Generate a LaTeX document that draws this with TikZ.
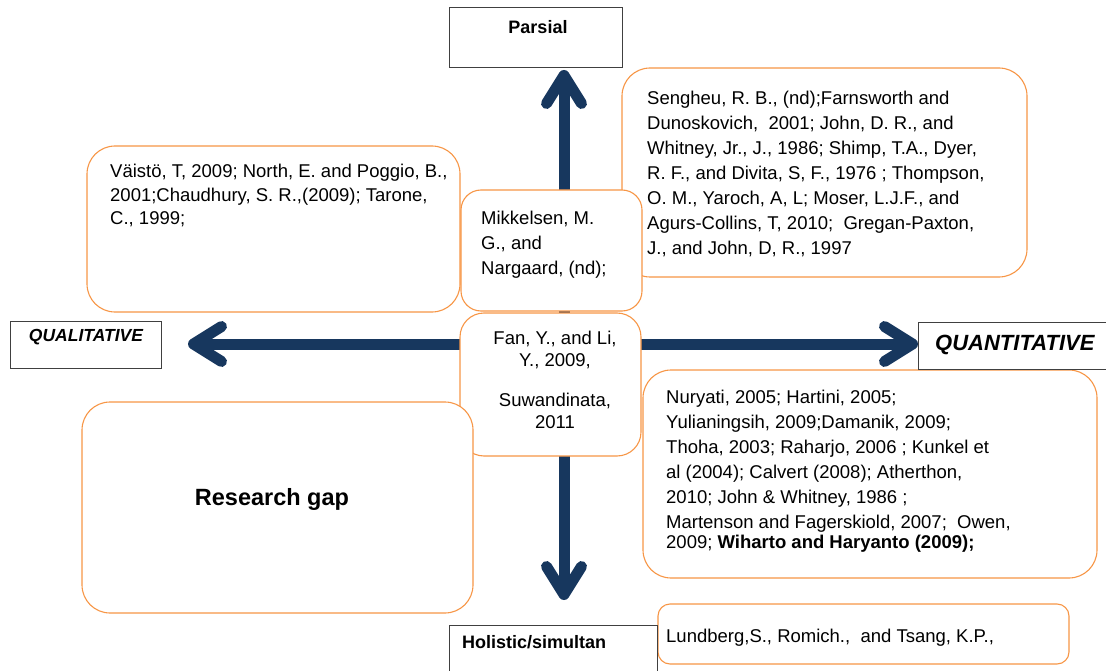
\documentclass[tikz,border=0pt]{standalone}
\usepackage{fontspec}
\setmainfont{Liberation Sans}
\usetikzlibrary{arrows.meta}
\definecolor{bleunuit}{RGB}{23,55,94}
\definecolor{orangeclair}{RGB}{247,150,70}

\begin{document}
\begin{tikzpicture}[x=1pt,y=-1pt,
    boite/.style={draw=orangeclair, line width=1.1pt, fill=white, rounded corners=28pt, inner sep=0pt},
    cadre/.style={draw=black!75, line width=1pt, fill=white, inner sep=0pt},
    texte/.style={anchor=north west, inner sep=0pt, align=left, font=\fontsize{18.5}{25}\selectfont},
    titre/.style={inner sep=0pt, font=\fontsize{18}{22}\selectfont\bfseries},
    axe/.style={draw=bleunuit, line width=11pt,
        {Straight Barb[length=28pt,width=35pt,round]}-{Straight Barb[length=28pt,width=35pt,round]}}]
    % Cadre de la figure
    \useasboundingbox (0,0) rectangle (1106,671);
    % Extremites des axes
    \coordinate (pointeparsial) at (564,70);
    \coordinate (pointeholistic) at (564,600);
    \coordinate (pointequal) at (188,344);
    \coordinate (pointequant) at (918,344);
    % Axes
    \draw[axe] (pointeholistic) -- (pointeparsial);
    \draw[axe] (pointequal) -- (pointequant);
    % Boites des references
    \node[boite, minimum width=405pt, minimum height=209pt] (sengheu) at (824.5,172.5) {};
    \node[texte] (sengheutxt) at (647,91) {Sengheu, R. B., (nd);Farnsworth and\\
        Dunoskovich,\ \ 2001; John, D. R., and\\
        Whitney, Jr., J., 1986; Shimp, T.A., Dyer,\\
        R. F., and Divita, S, F., 1976 ; Thompson,\\
        O. M., Yaroch, A, L; Moser, L.J.F., and\\
        Agurs-Collins, T, 2010;\ \ Gregan-Paxton,\\
        J., and John, D, R., 1997};
    \node[boite, minimum width=373pt, minimum height=166pt] (vaisto) at (273.5,229) {};
    \node[texte, font=\fontsize{18.5}{23.5}\selectfont] (vaistotxt) at (110,164) {Väistö, T, 2009; North, E. and Poggio, B.,\\
        2001;Chaudhury, S. R.,(2009); Tarone,\\
        C., 1999;};
    \node[boite, minimum width=454pt, minimum height=208pt] (nuryati) at (870,474) {};
    \node[texte] (nuryatitxt) at (666,390) {Nuryati, 2005; Hartini, 2005;\\
        Yulianingsih, 2009;Damanik, 2009;\\
        Thoha, 2003; Raharjo, 2006\ ; Kunkel et\\
        al (2004); Calvert (2008); Atherthon,\\
        2010; John \& Whitney, 1986\ ;\\
        Martenson and Fagerskiold, 2007;\ \ Owen,\\[-5pt]
        2009; \textbf{Wiharto and Haryanto (2009);}};
    \node[boite, rounded corners=12pt, minimum width=411pt, minimum height=60pt] (lundberg) at (863.5,634) {};
    \node[texte] (lundbergtxt) at (666,629) {Lundberg,S., Romich.,\ \ and Tsang, K.P.,};
    \node[boite, rounded corners=20pt, minimum width=181pt, minimum height=121pt] (mikkelsen) at (551.5,250.5) {};
    \node[texte] (mikkelsentxt) at (481,211) {Mikkelsen, M.\\G., and\\Nargaard, (nd);};
    \node[boite, rounded corners=24pt, minimum width=181pt, minimum height=143pt] (fan) at (550.5,384.5) {};
    \node[texte, anchor=north, align=center, font=\fontsize{18.5}{22}\selectfont] (fantxt) at (555,331)
        {Fan, Y., and Li,\\Y., 2009,\\[18pt]Suwandinata,\\2011};
    \node[boite, minimum width=391pt, minimum height=211pt] (gap) at (277.5,507.5) {};
    \node[titre, font=\fontsize{23.5}{28}\selectfont\bfseries] (gaptxt) at (272,499) {Research gap};
    % Cadres des axes
    \node[cadre, minimum width=173pt, minimum height=60pt] (parsial) at (535.5,38) {};
    \node[titre] (parsialtxt) at (538,27) {Parsial};
    \node[cadre, minimum width=151pt, minimum height=47pt] (qual) at (85.5,344.5) {};
    \node[titre, font=\fontsize{17.5}{22}\selectfont\bfseries\itshape] (qualtxt) at (86,337) {QUALITATIVE};
    \node[cadre, minimum width=194pt, minimum height=47pt] (quant) at (1015,345.5) {};
    \node[titre, anchor=west, font=\fontsize{22}{26}\selectfont\bfseries\itshape] (quanttxt) at (935,345) {QUANTITATIVE};
    \node[cadre, minimum width=208pt, minimum height=60pt] (holistic) at (553,655) {};
    \node[titre, anchor=west] (holistictxt) at (462,642) {Holistic/simultan};
\end{tikzpicture}
\end{document}
